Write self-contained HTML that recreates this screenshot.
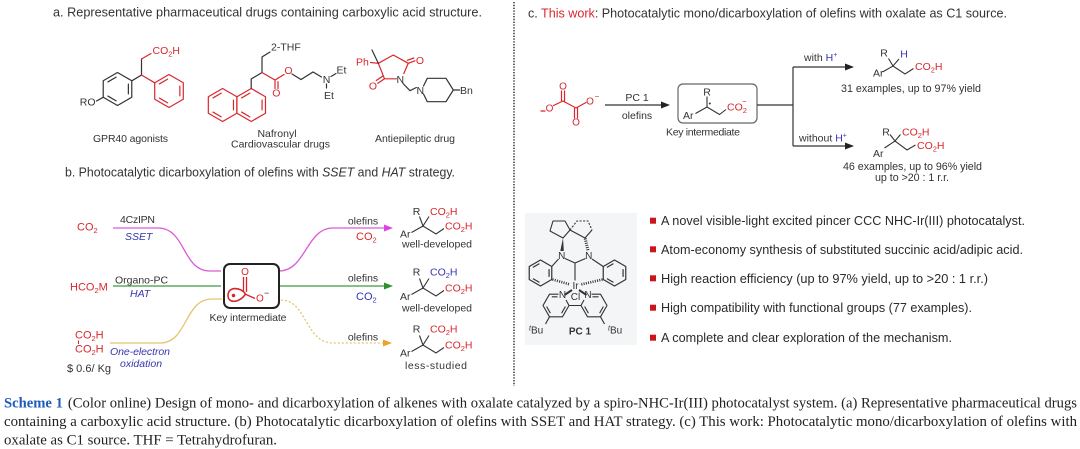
<!DOCTYPE html>
<html><head><meta charset="utf-8"><title>Scheme 1</title>
<style>
html,body{margin:0;padding:0;background:#fff;width:1080px;height:449px;overflow:hidden}
svg{display:block}
text{font-family:"Liberation Sans",Arial,sans-serif}
.sf{font-family:"Liberation Serif","Times New Roman",serif}
</style></head><body>
<svg xmlns="http://www.w3.org/2000/svg" width="1080" height="449" viewBox="0 0 1080 449">
<defs>
<g id="bz" fill="none" stroke-width="1.2" stroke-linejoin="round">
<polygon vector-effect="non-scaling-stroke" points="0,-17 14.72,-8.5 14.72,8.5 0,17 -14.72,8.5 -14.72,-8.5"/>
<path vector-effect="non-scaling-stroke" d="M11.2,-5 L11.2,5 M-1.4,12.2 L-9.9,7.3 M-9.9,-7.3 L-1.4,-12.2"/>
</g>
<g id="prod" fill="none" stroke="#333" stroke-width="1.1">
<path d="M419.5,278.5 L423,288 L429,278.5 M411.5,294.5 L423,288 L436,296 L444,290.5"/>
</g>
</defs>

<!-- ===== Panel a ===== -->
<text x="53" y="16.5" font-size="13" fill="#333" textLength="429" lengthAdjust="spacingAndGlyphs">a. Representative pharmaceutical drugs containing carboxylic acid structure.</text>
<line x1="514" y1="2" x2="514" y2="386" stroke="#444" stroke-width="1.6" stroke-dasharray="1.4 1.4"/>

<!-- GPR40 -->
<g stroke-width="1.2" stroke-linecap="round" fill="none">
<use href="#bz" transform="translate(117.5,89) scale(0.97)" stroke="#333"/>
<use href="#bz" transform="translate(169,91) scale(0.97)" stroke="#d8262c"/>
<path d="M131.8,80.8 L141.5,75 L141.5,59 M103.2,97.3 L96.5,101" stroke="#333"/>
<path d="M141.5,59 L151,53.5 M141.5,75 L154.7,82.8" stroke="#d8262c"/>
</g>
<text x="95.5" y="105.5" font-size="10.5" fill="#333" text-anchor="end">RO</text>
<text x="152.5" y="54" font-size="10.5" fill="#d8262c">CO<tspan font-size="7.5" dy="2.5">2</tspan><tspan dy="-2.5">H</tspan></text>
<text x="130.5" y="142" font-size="10.5" fill="#333" text-anchor="middle" textLength="75">GPR40 agonists</text>

<!-- Nafronyl -->
<g stroke-width="1.2" stroke-linecap="round" fill="none">
<use href="#bz" transform="translate(222.6,105) scale(0.97)" stroke="#d8262c"/>
<use href="#bz" transform="translate(251.2,105) scale(0.97)" stroke="#d8262c"/>
<path d="M251.2,88.5 L251.2,79 L262,72.5 L262,57 L270,52 M292,74 L301,79.5 L313,72 L321.5,77 M331,76.5 L336,73.5 M326.5,84 L326.5,88" stroke="#333"/>
<path d="M262,72.5 L275,80 L284,74.5 M275,80 L275,88.5 M278,81.7 L278,88.5" stroke="#d8262c"/>
</g>
<text x="271" y="50.5" font-size="10.5" fill="#333">2-THF</text>
<text x="276.3" y="96.5" font-size="10.5" fill="#d8262c" text-anchor="middle">O</text>
<text x="288.5" y="74" font-size="10.5" fill="#d8262c" text-anchor="middle">O</text>
<text x="326.5" y="82.8" font-size="10.5" fill="#333" text-anchor="middle">N</text>
<text x="336.5" y="73.5" font-size="10.5" fill="#333">Et</text>
<text x="324" y="99" font-size="10.5" fill="#333">Et</text>
<text x="277" y="137" font-size="10.5" fill="#333" text-anchor="middle">Nafronyl</text>
<text x="280.5" y="147.5" font-size="10.5" fill="#333" text-anchor="middle" textLength="99">Cardiovascular drugs</text>

<!-- Antiepileptic -->
<g stroke-width="1.2" stroke-linecap="round" stroke-linejoin="round" fill="none">
<path d="M370.5,62.5 L378.3,63.3 L393.3,55 L408.3,63.3 L403.8,73.5 M396.5,78.8 L384.5,78.8 L378.3,63.3 M408.3,63.3 L415,60.8 M407.3,60.3 L413.8,58 M384.5,78.8 L377.8,83.3 M382.5,76.3 L376.3,80.5" stroke="#d8262c"/>
<path d="M378.3,63.3 L372,50 M403,83.5 L410,90.7 L416.3,87.5 M423.5,86 L427.3,78.3 L446,78.3 L453.3,90 L446,101.7 L427.3,101.7 L423.5,94 M453.3,90 L459.5,90" stroke="#333"/>
</g>
<text x="356" y="65.5" font-size="10.5" fill="#d8262c">Ph</text>
<text x="420" y="63.8" font-size="10.5" fill="#d8262c" text-anchor="middle">O</text>
<text x="373" y="89.3" font-size="10.5" fill="#d8262c" text-anchor="middle">O</text>
<text x="400.3" y="82.8" font-size="10.5" fill="#333" text-anchor="middle">N</text>
<text x="420.3" y="93.8" font-size="10.5" fill="#333" text-anchor="middle">N</text>
<text x="460" y="93.8" font-size="10.5" fill="#333">Bn</text>
<text x="415" y="142" font-size="10.5" fill="#333" text-anchor="middle" textLength="80">Antiepileptic drug</text>

<!-- ===== Panel b ===== -->
<text x="65" y="176.5" font-size="13" fill="#333" textLength="390" lengthAdjust="spacingAndGlyphs">b. Photocatalytic dicarboxylation of olefins with <tspan font-style="italic">SSET</tspan> and <tspan font-style="italic">HAT</tspan> strategy.</text>

<text x="77" y="230.5" font-size="11" fill="#d8262c">CO<tspan font-size="7.5" dy="2.5">2</tspan></text>
<text x="120" y="223" font-size="10.5" fill="#333" textLength="35">4CzIPN</text>
<text x="125" y="240" font-size="10.5" fill="#3535b0" font-style="italic">SSET</text>
<text x="70" y="290.5" font-size="11" fill="#d8262c">HCO<tspan font-size="7.5" dy="2.5">2</tspan><tspan dy="-2.5">M</tspan></text>
<text x="115" y="283.5" font-size="10.5" fill="#333">Organo-PC</text>
<text x="130" y="297" font-size="10.5" fill="#3535b0" font-style="italic">HAT</text>
<text x="75" y="338.5" font-size="11" fill="#d8262c">CO<tspan font-size="7.5" dy="2.5">2</tspan><tspan dy="-2.5">H</tspan></text>
<text x="75" y="352.5" font-size="11" fill="#d8262c">CO<tspan font-size="7.5" dy="2.5">2</tspan><tspan dy="-2.5">H</tspan></text>
<line x1="78.5" y1="340.5" x2="78.5" y2="344" stroke="#d8262c" stroke-width="1"/>
<text x="67" y="372" font-size="11" fill="#333">$ 0.6/ Kg</text>
<text x="110" y="355" font-size="10.5" fill="#3535b0" font-style="italic" textLength="60">One-electron</text>
<text x="120" y="367" font-size="10.5" fill="#3535b0" font-style="italic">oxidation</text>

<g fill="none" stroke-width="1.3">
<path d="M113,228 L158,228 C186,228 182,271 210,271 L221,271" stroke="#dc5ad8"/>
<path d="M113,286 L221,286" stroke="#3f9a3f"/>
<path d="M110,343 L160,343 C188,343 184,299 212,299 L222,299" stroke="#e6c46c"/>
<path d="M279,271 C306,271 306,228 333,228 L385,228" stroke="#dc5ad8"/>
<path d="M279,286 L385,286" stroke="#3f9a3f"/>
<path d="M281,300 C307,300 305,343 333,343 L384,343" stroke="#e6c46c" stroke-dasharray="2 2"/>
</g>
<polygon points="384,224.5 393,228 384,231.5" fill="#e040e0"/>
<polygon points="384,282.5 393,286 384,289.5" fill="#2f8f2f"/>
<polygon points="383,339.5 392,343 383,346.5" fill="#f0a030"/>

<!-- key intermediate box -->
<rect x="224" y="264" width="55" height="44" rx="6" fill="none" stroke="#222" stroke-width="2"/>
<g stroke="#d8262c" fill="none" stroke-width="1.3">
<path d="M243.5,277 L243.5,292 M246.5,277 L246.5,292 M245,294 L255,298.5"/>
<path d="M245.5,294 C241,287 228,286 228,295.5 C228,304 240,303 245.5,294 Z" stroke-width="1.6"/>
</g>
<circle cx="233.5" cy="295.5" r="1.8" fill="#d8262c"/>
<text x="245" y="275" font-size="10" fill="#d8262c" text-anchor="middle">O</text>
<text x="256" y="301.5" font-size="10" fill="#d8262c">O</text>
<text x="264" y="296" font-size="9" fill="#333">−</text>
<text x="248" y="321" font-size="10.5" fill="#333" text-anchor="middle" textLength="77">Key intermediate</text>

<text x="363" y="224.5" font-size="10.5" fill="#333" text-anchor="middle">olefins</text>
<text x="356" y="240" font-size="11" fill="#d8262c">CO<tspan font-size="7.5" dy="2.5">2</tspan></text>
<text x="363" y="281.5" font-size="10.5" fill="#333" text-anchor="middle">olefins</text>
<text x="356" y="300" font-size="11" fill="#3535b0">CO<tspan font-size="7.5" dy="2.5">2</tspan></text>
<text x="363" y="340.5" font-size="10.5" fill="#333" text-anchor="middle">olefins</text>

<!-- products -->
<use href="#prod" transform="translate(0,-62)"/>
<use href="#prod"/>
<use href="#prod" transform="translate(0,57)"/>
<g font-size="10.5">
<text x="416.5" y="215" fill="#333" text-anchor="middle">R</text>
<text x="430" y="215" fill="#d8262c">CO<tspan font-size="7.5" dy="2.5">2</tspan><tspan dy="-2.5">H</tspan></text>
<text x="445" y="229.5" fill="#d8262c">CO<tspan font-size="7.5" dy="2.5">2</tspan><tspan dy="-2.5">H</tspan></text>
<text x="400" y="237.5" fill="#333">Ar</text>
<text x="437" y="247.5" fill="#333" text-anchor="middle" textLength="70">well-developed</text>

<text x="416.5" y="275.7" fill="#333" text-anchor="middle">R</text>
<text x="430" y="275.7" fill="#3535b0">CO<tspan font-size="7.5" dy="2.5">2</tspan><tspan dy="-2.5">H</tspan></text>
<text x="445" y="291.3" fill="#d8262c">CO<tspan font-size="7.5" dy="2.5">2</tspan><tspan dy="-2.5">H</tspan></text>
<text x="400" y="300" fill="#333">Ar</text>
<text x="437" y="311.3" fill="#333" text-anchor="middle" textLength="70">well-developed</text>

<text x="416.5" y="332.5" fill="#333" text-anchor="middle">R</text>
<text x="430" y="332.5" fill="#d8262c">CO<tspan font-size="7.5" dy="2.5">2</tspan><tspan dy="-2.5">H</tspan></text>
<text x="445" y="348.3" fill="#d8262c">CO<tspan font-size="7.5" dy="2.5">2</tspan><tspan dy="-2.5">H</tspan></text>
<text x="400" y="356.5" fill="#333">Ar</text>
<text x="436" y="369" fill="#333" text-anchor="middle" textLength="62">less-studied</text>
</g>

<!-- ===== Panel c ===== -->
<text x="528" y="17.5" font-size="13" fill="#333" textLength="479" lengthAdjust="spacingAndGlyphs">c. <tspan fill="#d8262c">This work</tspan>: Photocatalytic mono/dicarboxylation of olefins with oxalate as C1 source.</text>

<!-- oxalate -->
<g stroke="#d8262c" stroke-width="1.2" fill="none" stroke-linecap="round">
<path d="M553.5,105.5 L563,101 L576,108 L586,102.5 M561.5,100.5 L561.5,91 M564.5,101.5 L564.5,91 M574.5,108.5 L574.5,118 M577.5,107.5 L577.5,118 M541,111 L545,111"/>
</g>
<g font-size="10" fill="#d8262c" text-anchor="middle">
<text x="549.5" y="111.5">O</text>
<text x="563" y="89.5">O</text>
<text x="576" y="125.5">O</text>
<text x="590" y="104.5">O</text>
<text x="597" y="99" font-size="8">−</text>
</g>
<line x1="605" y1="105" x2="662" y2="105" stroke="#333" stroke-width="1.2"/>
<polygon points="661,101.5 670,105 661,108.5" fill="#222"/>
<text x="637" y="101" font-size="10.5" fill="#333" text-anchor="middle">PC 1</text>
<text x="637" y="119" font-size="10.5" fill="#333" text-anchor="middle">olefins</text>

<rect x="678" y="84" width="79" height="39" rx="5" fill="none" stroke="#666" stroke-width="1.2"/>
<path d="M707,96.5 L707,107 M695.5,113.5 L707,107 L719.5,114.5 L726,109.5" stroke="#333" stroke-width="1.1" fill="none"/>
<circle cx="709.8" cy="103.5" r="1" fill="#333"/>
<text x="707" y="95.5" font-size="10.5" fill="#333" text-anchor="middle">R</text>
<text x="683" y="119" font-size="10.5" fill="#333">Ar</text>
<text x="727" y="110.5" font-size="10.5" fill="#d8262c">CO<tspan font-size="7.5" dy="2.5">2</tspan></text>
<text x="742" y="104" font-size="8" fill="#d8262c">−</text>
<text x="703" y="135.5" font-size="10.5" fill="#333" text-anchor="middle" textLength="74">Key intermediate</text>

<path d="M757,105 L793,105 M793,67 L793,146 M793,67 L846,67 M793,146 L846,146" stroke="#333" stroke-width="1.2" fill="none"/>
<polygon points="845,63.5 854,67 845,70.5" fill="#222"/>
<polygon points="845,142.5 854,146 845,149.5" fill="#222"/>
<text x="804" y="61" font-size="10.5" fill="#333">with <tspan fill="#3535b0">H</tspan><tspan fill="#3535b0" font-size="7" dy="-4">+</tspan></text>
<text x="799" y="141.5" font-size="10.5" fill="#333">without <tspan fill="#3535b0">H</tspan><tspan fill="#3535b0" font-size="7" dy="-4">+</tspan></text>

<path d="M888.5,58.5 L893,66 L899,59 M882.5,72 L893,66 L905,74 L913.5,68.5" stroke="#333" stroke-width="1.1" fill="none"/>
<text x="884" y="56.5" font-size="10.5" fill="#333" text-anchor="middle">R</text>
<text x="904" y="57.5" font-size="10.5" fill="#3535b0" text-anchor="middle">H</text>
<text x="915" y="70" font-size="10.5" fill="#d8262c">CO<tspan font-size="7.5" dy="2.5">2</tspan><tspan dy="-2.5">H</tspan></text>
<text x="873" y="76.5" font-size="10.5" fill="#333">Ar</text>
<text x="841" y="92" font-size="10.7" fill="#333" textLength="140">31 examples, up to 97% yield</text>

<path d="M890,134.5 L895,141 L900.5,134.5 M884.5,148 L895,141 L907,150 L915.5,145" stroke="#333" stroke-width="1.1" fill="none"/>
<text x="886" y="135.5" font-size="10.5" fill="#333" text-anchor="middle">R</text>
<text x="902" y="135.5" font-size="10.5" fill="#d8262c">CO<tspan font-size="7.5" dy="2.5">2</tspan><tspan dy="-2.5">H</tspan></text>
<text x="917" y="149" font-size="10.5" fill="#d8262c">CO<tspan font-size="7.5" dy="2.5">2</tspan><tspan dy="-2.5">H</tspan></text>
<text x="873" y="157" font-size="10.5" fill="#333">Ar</text>
<text x="843" y="170" font-size="10.7" fill="#333" textLength="139">46 examples, up to 96% yield</text>
<text x="875" y="181" font-size="10.7" fill="#333" textLength="74">up to &gt;20 : 1 r.r.</text>

<!-- PC1 -->
<rect x="525" y="213" width="112" height="132" fill="#f3f5f6"/>
<g stroke="#333" stroke-width="1.1" fill="none" stroke-linejoin="round">
<path d="M553,221 L565,221 L570,230 L563,238 L550,231 Z"/>
<path d="M570,230 L585,238 L592,230"/>
<path d="M570,230 L577,221 L588,221 L592,230" stroke-dasharray="2 1.5"/>
<path d="M585.2,238.5 L588,250.5" stroke-width="3" stroke-dasharray="1 1.2"/>
<path d="M565,258.5 L575,263 L585.5,258.5 M575,263 L575,280.5 M558.5,259 L551.8,266.5 M592,259 L603.2,266.5"/>
<path d="M552.5,279.5 L570,284.5 M602.5,279.5 L581,284.5" stroke-width="2.6" stroke-dasharray="1 1.3"/>
<path d="M572,290 L564.5,295 M579,290 L586.5,295" stroke-width="2"/>
<path d="M566,300 L569,305.5 L562.5,316.8 L549.5,316.8 L543,305.5 L549.5,294.2 L558.5,294.2 M551.8,296.8 L557.5,296.8 M546.6,306.5 L550.4,313.2 M561.6,313.2 L565.4,306.5"/>
<path d="M584,300 L581,305.5 L587.5,316.8 L600.5,316.8 L607,305.5 L600.5,294.2 L591.5,294.2 M592.5,296.8 L598.5,296.8 M603.4,306.5 L599.6,313.2 M588.4,313.2 L584.6,306.5"/>
<path d="M569,305.5 L581,305.5 M549.5,316.8 L545.5,324 M600.5,316.8 L604.5,324"/>
</g>
<polygon points="563,238 560.3,251 563.8,251" fill="#333"/>
<use href="#bz" transform="translate(540.5,273) scale(0.765)" stroke="#333"/>
<use href="#bz" transform="translate(614.5,273) scale(0.765)" stroke="#333"/>
<g font-size="10" fill="#333" text-anchor="middle">
<text x="561.8" y="258.8">N</text>
<text x="588.8" y="258.8">N</text>
<text x="575.5" y="289">Ir</text>
<text x="562.5" y="297.8">N</text>
<text x="588" y="297.8">N</text>
<text x="575.5" y="300">Cl</text>
<text x="580" y="334.5" font-weight="bold">PC 1</text>
</g>
<text x="529" y="333.5" font-size="10" fill="#333"><tspan font-size="7" dy="-3" font-style="italic">t</tspan><tspan dy="3">Bu</tspan></text>
<text x="608" y="333.5" font-size="10" fill="#333"><tspan font-size="7" dy="-3" font-style="italic">t</tspan><tspan dy="3">Bu</tspan></text>

<!-- bullets -->
<g fill="#c8161d">
<rect x="650" y="217.7" width="6" height="6"/>
<rect x="650" y="246.3" width="6" height="6"/>
<rect x="650" y="275.3" width="6" height="6"/>
<rect x="650" y="304.7" width="6" height="6"/>
<rect x="650" y="334.7" width="6" height="6"/>
</g>
<g font-size="12.6" fill="#2a2a2a">
<text x="661" y="225.2" textLength="364" lengthAdjust="spacingAndGlyphs">A novel visible-light excited pincer CCC NHC-Ir(III) photocatalyst.</text>
<text x="661" y="253.8" textLength="362" lengthAdjust="spacingAndGlyphs">Atom-economy synthesis of substituted succinic acid/adipic acid.</text>
<text x="661" y="282.8" textLength="327" lengthAdjust="spacingAndGlyphs">High reaction efficiency (up to 97% yield, up to &gt;20 : 1 r.r.)</text>
<text x="661" y="312.2" textLength="311" lengthAdjust="spacingAndGlyphs">High compatibility with functional groups (77 examples).</text>
<text x="661" y="342.2" textLength="291" lengthAdjust="spacingAndGlyphs">A complete and clear exploration of the mechanism.</text>
</g>

<!-- caption -->
<g class="sf" font-size="14.5" fill="#222">
<text class="sf" x="4" y="407.5" textLength="1073" lengthAdjust="spacingAndGlyphs"><tspan fill="#1d5cb8" font-weight="bold">Scheme 1</tspan><tspan dx="5">(Color online) Design of mono- and dicarboxylation of alkenes with oxalate catalyzed by a spiro-NHC-Ir(III) photocatalyst system. (a) Representative pharmaceutical drugs</tspan></text>
<text class="sf" x="4" y="426" textLength="1073" lengthAdjust="spacingAndGlyphs">containing a carboxylic acid structure. (b) Photocatalytic dicarboxylation of olefins with SSET and HAT strategy. (c) This work: Photocatalytic mono/dicarboxylation of olefins with</text>
<text class="sf" x="4" y="444.5" textLength="273" lengthAdjust="spacingAndGlyphs">oxalate as C1 source. THF = Tetrahydrofuran.</text>
</g>
</svg>
</body></html>
